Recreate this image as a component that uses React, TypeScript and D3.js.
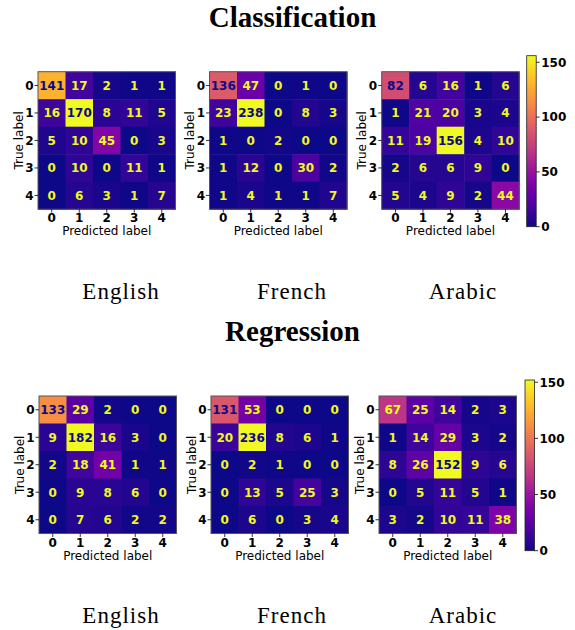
import React from "react";
import * as d3 from "d3";

const labels = ["0", "1", "2", "3", "4"];
const languages = ["English", "French", "Arabic"];
const sections = ["Classification", "Regression"];

const clsEnglish = [
  [141, 17, 2, 1, 1],
  [16, 170, 8, 11, 5],
  [5, 10, 45, 0, 3],
  [0, 10, 0, 11, 1],
  [0, 6, 3, 1, 7],
];
const clsFrench = [
  [136, 47, 0, 1, 0],
  [23, 238, 0, 8, 3],
  [1, 0, 2, 0, 0],
  [1, 12, 0, 30, 2],
  [1, 4, 1, 1, 7],
];
const clsArabic = [
  [82, 6, 16, 1, 6],
  [1, 21, 20, 3, 4],
  [11, 19, 156, 4, 10],
  [2, 6, 6, 9, 0],
  [5, 4, 9, 2, 44],
];
const regEnglish = [
  [133, 29, 2, 0, 0],
  [9, 182, 16, 3, 0],
  [2, 18, 41, 1, 1],
  [0, 9, 8, 6, 0],
  [0, 7, 6, 2, 2],
];
const regFrench = [
  [131, 53, 0, 0, 0],
  [20, 236, 8, 6, 1],
  [0, 2, 1, 0, 0],
  [0, 13, 5, 25, 3],
  [0, 6, 0, 3, 4],
];
const regArabic = [
  [67, 25, 14, 2, 3],
  [1, 14, 29, 3, 2],
  [8, 26, 152, 9, 6],
  [0, 5, 11, 5, 1],
  [3, 2, 10, 11, 38],
];
const colorbarTicks = [0, 50, 100, 150];

const matrices = [
  [clsEnglish, clsFrench, clsArabic],
  [regEnglish, regFrench, regArabic],
];

// layout
const S = 137.5;
const rowsLayout = [
  { top: 71.7, lefts: [38, 209.5, 381.7], cbX: 526.7, cbTop: 55.7, cbBottom: 226.7, title: 27, langY: 299 },
  { top: 396, lefts: [39, 211, 379], cbX: 525, cbTop: 380, cbBottom: 550.7, title: 341, langY: 623 },
];
const langX = [121, 292, 463];
const SANS = "'DejaVu Sans', sans-serif";
const SERIF = "'Liberation Serif', 'Times New Roman', serif";

function Matrix({ data, left, top }: { data: number[][]; left: number; top: number }) {
  const flat = data.flat();
  const vmin = d3.min(flat) as number;
  const vmax = d3.max(flat) as number;
  const color = d3.scaleSequential(d3.interpolatePlasma).domain([vmin, vmax]);
  const thresh = (vmin + vmax) / 2;
  const x = d3.scaleBand<string>().domain(labels).range([left, left + S]);
  const y = d3.scaleBand<string>().domain(labels).range([top, top + S]);
  const bw = x.bandwidth();
  return (
    <g>
      {data.map((row, i) =>
        row.map((v, j) => (
          <rect
            key={`${i}-${j}`}
            x={x(labels[j])}
            y={y(labels[i])}
            width={bw + 0.5}
            height={bw + 0.5}
            fill={color(v)}
          />
        ))
      )}
      {data.map((row, i) =>
        row.map((v, j) => (
          <text
            key={`t${i}-${j}`}
            x={(x(labels[j]) as number) + bw / 2}
            y={(y(labels[i]) as number) + bw / 2 + 4.3}
            textAnchor="middle"
            style={{ fontFamily: SANS, fontWeight: "bold", fontSize: "12px" }}
            fill={v < thresh ? d3.interpolatePlasma(1) : d3.interpolatePlasma(0)}
          >
            {v}
          </text>
        ))
      )}
      <rect x={left} y={top} width={S} height={S} fill="none" stroke="#555" strokeWidth={1} />
      {labels.map((l) => (
        <g key={`y${l}`}>
          <line
            x1={left - 3.5}
            x2={left}
            y1={(y(l) as number) + bw / 2}
            y2={(y(l) as number) + bw / 2}
            stroke="#000"
            strokeWidth={0.8}
          />
          <text
            x={left - 4.5}
            y={(y(l) as number) + bw / 2 + 4.3}
            textAnchor="end"
            style={{ fontFamily: SANS, fontWeight: "bold", fontSize: "12px" }}
          >
            {l}
          </text>
        </g>
      ))}
      {labels.map((l) => (
        <g key={`x${l}`}>
          <line
            x1={(x(l) as number) + bw / 2}
            x2={(x(l) as number) + bw / 2}
            y1={top + S}
            y2={top + S + 3.5}
            stroke="#000"
            strokeWidth={0.8}
          />
          <text
            x={(x(l) as number) + bw / 2}
            y={top + S + 13}
            textAnchor="middle"
            style={{ fontFamily: SANS, fontWeight: "bold", fontSize: "12px" }}
          >
            {l}
          </text>
        </g>
      ))}
      <text
        x={left + S / 2}
        y={top + S + 26}
        textAnchor="middle"
        style={{ fontFamily: SANS, fontSize: "12px" }}
      >
        Predicted label
      </text>
      <text
        transform={`translate(${left - 15.5},${top + S / 2}) rotate(-90)`}
        textAnchor="middle"
        style={{ fontFamily: SANS, fontSize: "12px" }}
      >
        True label
      </text>
    </g>
  );
}

function Colorbar({ data, x, top, bottom, id }: { data: number[][]; x: number; top: number; bottom: number; id: string }) {
  const flat = data.flat();
  const vmin = d3.min(flat) as number;
  const vmax = d3.max(flat) as number;
  const scale = d3.scaleLinear().domain([vmin, vmax]).range([bottom, top]);
  const w = 9.5;
  const stops = d3.range(0, 1.0001, 0.05);
  return (
    <g>
      <defs>
        <linearGradient id={id} x1="0" y1="1" x2="0" y2="0">
          {stops.map((t) => (
            <stop key={t} offset={t} stopColor={d3.interpolatePlasma(t)} />
          ))}
        </linearGradient>
      </defs>
      <rect x={x} y={top} width={w} height={bottom - top} fill={`url(#${id})`} stroke="#222" strokeWidth={0.8} />
      {colorbarTicks.map((t) => (
        <g key={t}>
          <line x1={x + w} x2={x + w + 3.5} y1={scale(t)} y2={scale(t)} stroke="#000" strokeWidth={0.8} />
          <text
            x={x + w + 5}
            y={scale(t) + 4.3}
            style={{ fontFamily: SANS, fontWeight: "bold", fontSize: "12px" }}
          >
            {t}
          </text>
        </g>
      ))}
    </g>
  );
}

export default function App() {
  return (
    <div style={{ position: "absolute", left: 0, top: 0 }}>
      <svg width={575} height={630} style={{ display: "block", background: "#fff" }}>
        {rowsLayout.map((r, ri) => (
          <g key={ri}>
            <text
              x={292.5}
              y={r.title}
              textAnchor="middle"
              style={{ fontFamily: SERIF, fontWeight: "bold", fontSize: "29px" }}
            >
              {sections[ri]}
            </text>
            {matrices[ri].map((m, mi) => (
              <Matrix key={mi} data={m} left={r.lefts[mi]} top={r.top} />
            ))}
            <Colorbar data={matrices[ri][2]} x={r.cbX} top={r.cbTop} bottom={r.cbBottom} id={`cb${ri}`} />
            {languages.map((lang, li) => (
              <text
                key={lang}
                x={langX[li]}
                y={r.langY}
                textAnchor="middle"
                style={{ fontFamily: SERIF, fontSize: "23px", letterSpacing: "1px" }}
              >
                {lang}
              </text>
            ))}
          </g>
        ))}
      </svg>
    </div>
  );
}
